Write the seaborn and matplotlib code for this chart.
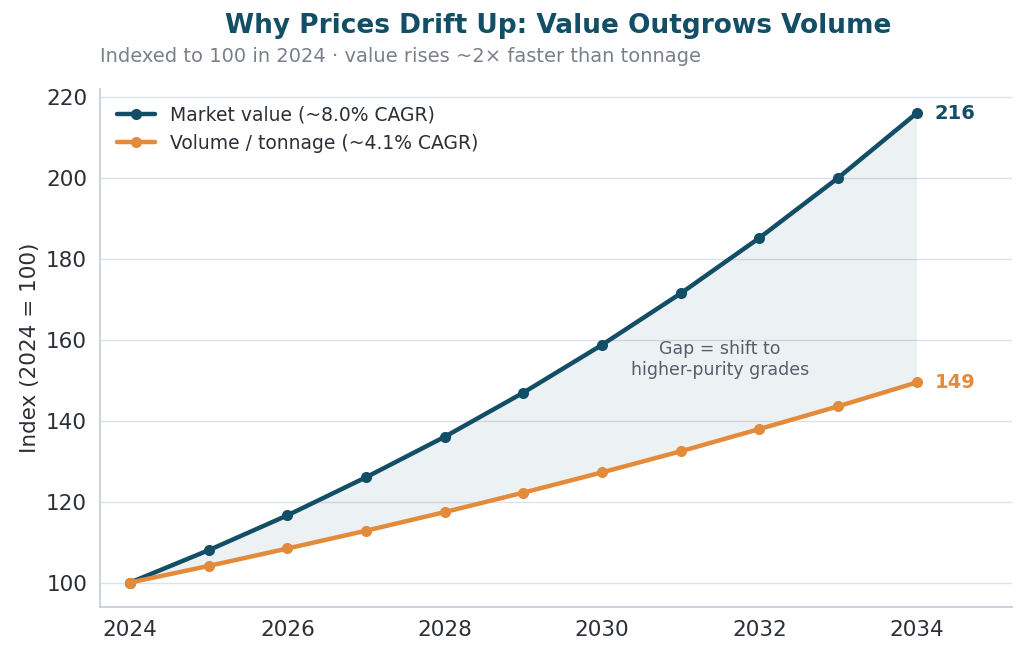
import numpy as np
import pandas as pd
import matplotlib
matplotlib.use("Agg")
import matplotlib.pyplot as plt
import seaborn as sns

years = [2024, 2025, 2026, 2027, 2028, 2029, 2030, 2031, 2032, 2033, 2034]
market_value = [100, 108.0, 116.6, 126.0, 136.0, 146.9, 158.7, 171.4, 185.1, 199.9, 215.9]
volume = [100, 104.1, 108.4, 112.8, 117.4, 122.2, 127.2, 132.4, 137.9, 143.5, 149.4]

navy = "#124e66"
orange = "#e38b3b"

sns.set_theme(style="whitegrid")
plt.rcParams['font.family'] = ['DejaVu Sans']

df = pd.DataFrame({"year": years, "Market value (~8.0% CAGR)": market_value,
                   "Volume / tonnage (~4.1% CAGR)": volume})
long = df.melt(id_vars="year", var_name="series", value_name="index")

fig, ax = plt.subplots(figsize=(10.24, 6.56), dpi=100)
sns.lineplot(data=long, x="year", y="index", hue="series", marker="o",
             palette=[navy, orange], linewidth=3.2, markersize=8,
             markeredgewidth=0, ax=ax)
ax.fill_between(years, volume, market_value, color=navy, alpha=0.08, linewidth=0)

ax.text(years[-1] + 0.23, market_value[-1], f"{market_value[-1]:.0f}", color=navy,
        fontsize=14, fontweight="bold", va="center")
ax.text(years[-1] + 0.23, volume[-1], f"{volume[-1]:.0f}", color=orange,
        fontsize=14, fontweight="bold", va="center")
ax.text(2031.5, 155, "Gap = shift to\nhigher-purity grades", color="#555e6b",
        fontsize=12.5, ha="center", va="center")

ax.set_xlim(2023.62, 2035.21)
ax.set_ylim(94, 222)
ax.set_xticks([2024, 2026, 2028, 2030, 2032, 2034])
ax.set_yticks(range(100, 221, 20))
ax.tick_params(labelsize=15.5, colors="#2b2f36")
ax.set_xlabel("")
ax.set_ylabel("Index (2024 = 100)", fontsize=15.5, color="#2b2f36")
ax.grid(axis="x", visible=False)
ax.grid(axis="y", color="#dde2e8")
for s in ["top", "right"]:
    ax.spines[s].set_visible(False)
for s in ["left", "bottom"]:
    ax.spines[s].set_color("#c5cfda")

leg = ax.legend(loc="upper left", fontsize=13.5, frameon=False, title=None)
for t in leg.get_texts():
    t.set_color("#2b2f36")

fig.suptitle("Why Prices Drift Up: Value Outgrows Volume", x=0.545, y=0.98,
             fontsize=19, fontweight="bold", color=navy)
fig.text(0.098, 0.905, "Indexed to 100 in 2024 · value rises ~2× faster than tonnage",
         fontsize=14, color="#7a808a")
fig.subplots_adjust(left=0.098, right=0.988, top=0.865, bottom=0.075)
fig.savefig("out.png", dpi=100)
